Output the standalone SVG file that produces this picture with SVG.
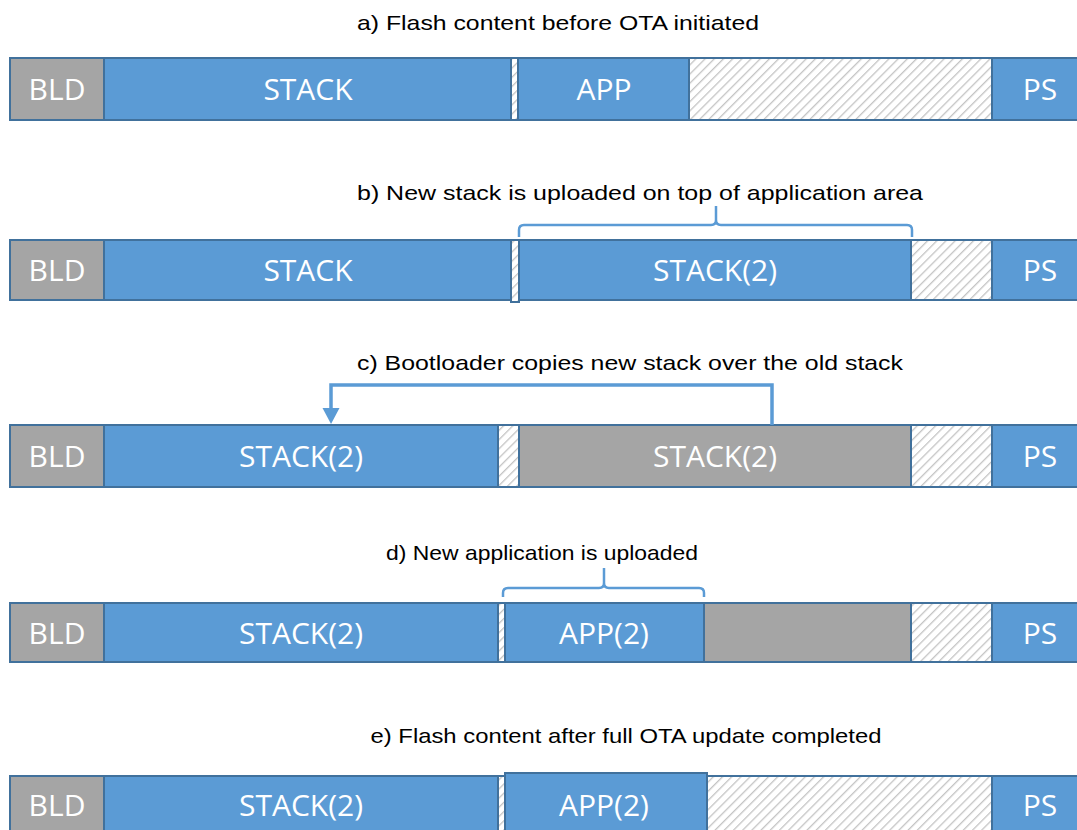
<svg xmlns="http://www.w3.org/2000/svg" width="1077" height="830" viewBox="0 0 1077 830">
<defs>
<pattern id="hatch" patternUnits="userSpaceOnUse" width="6.5" height="6.5" patternTransform="rotate(45)">
<rect width="6.5" height="6.5" fill="#ffffff"/>
<line x1="0" y1="0" x2="0" y2="6.5" stroke="#c4c4c4" stroke-width="2.6"/>
</pattern>
<style>
.blue{fill:#5B9BD5;stroke:#41719C;stroke-width:2}
.gray{fill:#A5A5A5;stroke:#41719C;stroke-width:2}
.hat{fill:url(#hatch);stroke:#41719C;stroke-width:2}
.lbl{font-family:"Open Sans","Liberation Sans",sans-serif;font-size:30px;fill:#ffffff;text-anchor:middle}
.ttl{font-family:"Liberation Sans","Open Sans",sans-serif;font-size:21px;fill:#000000;text-anchor:middle}
.con{fill:none;stroke:#5B9BD5;stroke-width:2.5}
.thick{stroke-width:3.5}
.head{fill:#5B9BD5;stroke:none}
</style>
</defs>
<rect width="1077" height="830" fill="#ffffff"/>

<g id="row-a">
<text class="ttl" x="558" y="30" textLength="402" lengthAdjust="spacingAndGlyphs">a) Flash content before OTA initiated</text>
<g id="a-bld"><rect class="gray" x="10" y="58" width="94" height="62"/><text class="lbl" x="57" y="100">BLD</text></g>
<g id="a-stack"><rect class="blue" x="104" y="58" width="407" height="62"/><text class="lbl" x="308" y="100">STACK</text></g>
<g id="a-gap"><rect class="hat" x="511" y="58" width="7" height="62"/></g>
<g id="a-app"><rect class="blue" x="518" y="58" width="171" height="62"/><text class="lbl" x="604" y="100">APP</text></g>
<g id="a-free"><rect class="hat" x="689" y="58" width="303" height="62"/></g>
<g id="a-ps"><rect class="blue" x="992" y="58" width="90" height="62"/><text class="lbl" x="1040" y="100">PS</text></g>
</g>

<g id="row-b">
<text class="ttl" x="640" y="200" textLength="566" lengthAdjust="spacingAndGlyphs">b) New stack is uploaded on top of application area</text>
<g id="b-bld"><rect class="gray" x="10" y="240" width="94" height="60"/><text class="lbl" x="57" y="281">BLD</text></g>
<g id="b-stack"><rect class="blue" x="104" y="240" width="407" height="60"/><text class="lbl" x="308" y="281">STACK</text></g>
<g id="b-gap"><rect class="hat" x="511" y="240" width="8" height="62"/></g>
<g id="b-stack2"><rect class="blue" x="519" y="240" width="392" height="60"/><text class="lbl" x="715" y="281">STACK(2)</text></g>
<g id="b-free"><rect class="hat" x="911" y="240" width="81" height="60"/></g>
<g id="b-ps"><rect class="blue" x="992" y="240" width="90" height="60"/><text class="lbl" x="1040" y="281">PS</text></g>
</g>

<g id="row-c">
<text class="ttl" x="630" y="370" textLength="546" lengthAdjust="spacingAndGlyphs">c) Bootloader copies new stack over the old stack</text>
<g id="c-bld"><rect class="gray" x="10" y="425" width="94" height="62"/><text class="lbl" x="57" y="467">BLD</text></g>
<g id="c-stack2"><rect class="blue" x="104" y="425" width="394" height="62"/><text class="lbl" x="301" y="467">STACK(2)</text></g>
<g id="c-gap"><rect class="hat" x="498" y="425" width="21" height="62"/></g>
<g id="c-old"><rect class="gray" x="519" y="425" width="392" height="62"/><text class="lbl" x="715" y="467">STACK(2)</text></g>
<g id="c-free"><rect class="hat" x="911" y="425" width="81" height="62"/></g>
<g id="c-ps"><rect class="blue" x="992" y="425" width="90" height="62"/><text class="lbl" x="1040" y="467">PS</text></g>
</g>

<g id="row-d">
<text class="ttl" x="542" y="560" textLength="312" lengthAdjust="spacingAndGlyphs">d) New application is uploaded</text>
<g id="d-bld"><rect class="gray" x="10" y="603" width="94" height="59"/><text class="lbl" x="57" y="644">BLD</text></g>
<g id="d-stack2"><rect class="blue" x="104" y="603" width="394" height="59"/><text class="lbl" x="301" y="644">STACK(2)</text></g>
<g id="d-gap"><rect class="hat" x="498" y="603" width="7" height="59"/></g>
<g id="d-app2"><rect class="blue" x="505" y="603" width="199" height="59"/><text class="lbl" x="604" y="644">APP(2)</text></g>
<g id="d-old"><rect class="gray" x="704" y="603" width="207" height="59"/></g>
<g id="d-free"><rect class="hat" x="911" y="603" width="81" height="59"/></g>
<g id="d-ps"><rect class="blue" x="992" y="603" width="90" height="59"/><text class="lbl" x="1040" y="644">PS</text></g>
</g>

<g id="row-e">
<text class="ttl" x="626" y="743" textLength="511" lengthAdjust="spacingAndGlyphs">e) Flash content after full OTA update completed</text>
<g id="e-bld"><rect class="gray" x="10" y="776" width="94" height="62"/><text class="lbl" x="57" y="816">BLD</text></g>
<g id="e-stack2"><rect class="blue" x="104" y="776" width="394" height="62"/><text class="lbl" x="301" y="816">STACK(2)</text></g>
<g id="e-gap"><rect class="hat" x="498" y="776" width="7" height="62"/></g>
<g id="e-app2"><rect class="blue" x="505" y="773" width="202" height="65"/><text class="lbl" x="604" y="816">APP(2)</text></g>
<g id="e-free"><rect class="hat" x="707" y="776" width="285" height="62"/></g>
<g id="e-ps"><rect class="blue" x="992" y="776" width="90" height="62"/><text class="lbl" x="1040" y="816">PS</text></g>
</g>

<g id="connectors">
<path class="con" d="M519,237 L519,230 Q519,225 524,225 L711,225 Q716,225 716,220 L716,206 M716,220 Q716,225 721,225 L907,225 Q912,225 912,230 L912,237"/>
<path class="con thick" d="M772,425 L772,385 L331,385 L331,410"/>
<path class="head" d="M322.5,408 L339.5,408 L331,424 z"/>
<path class="con" d="M503,597 L503,593 Q503,588 508,588 L599,588 Q604,588 604,583 L604,568 M604,583 Q604,588 609,588 L699,588 Q704,588 704,593 L704,597"/>
</g>
</svg>
